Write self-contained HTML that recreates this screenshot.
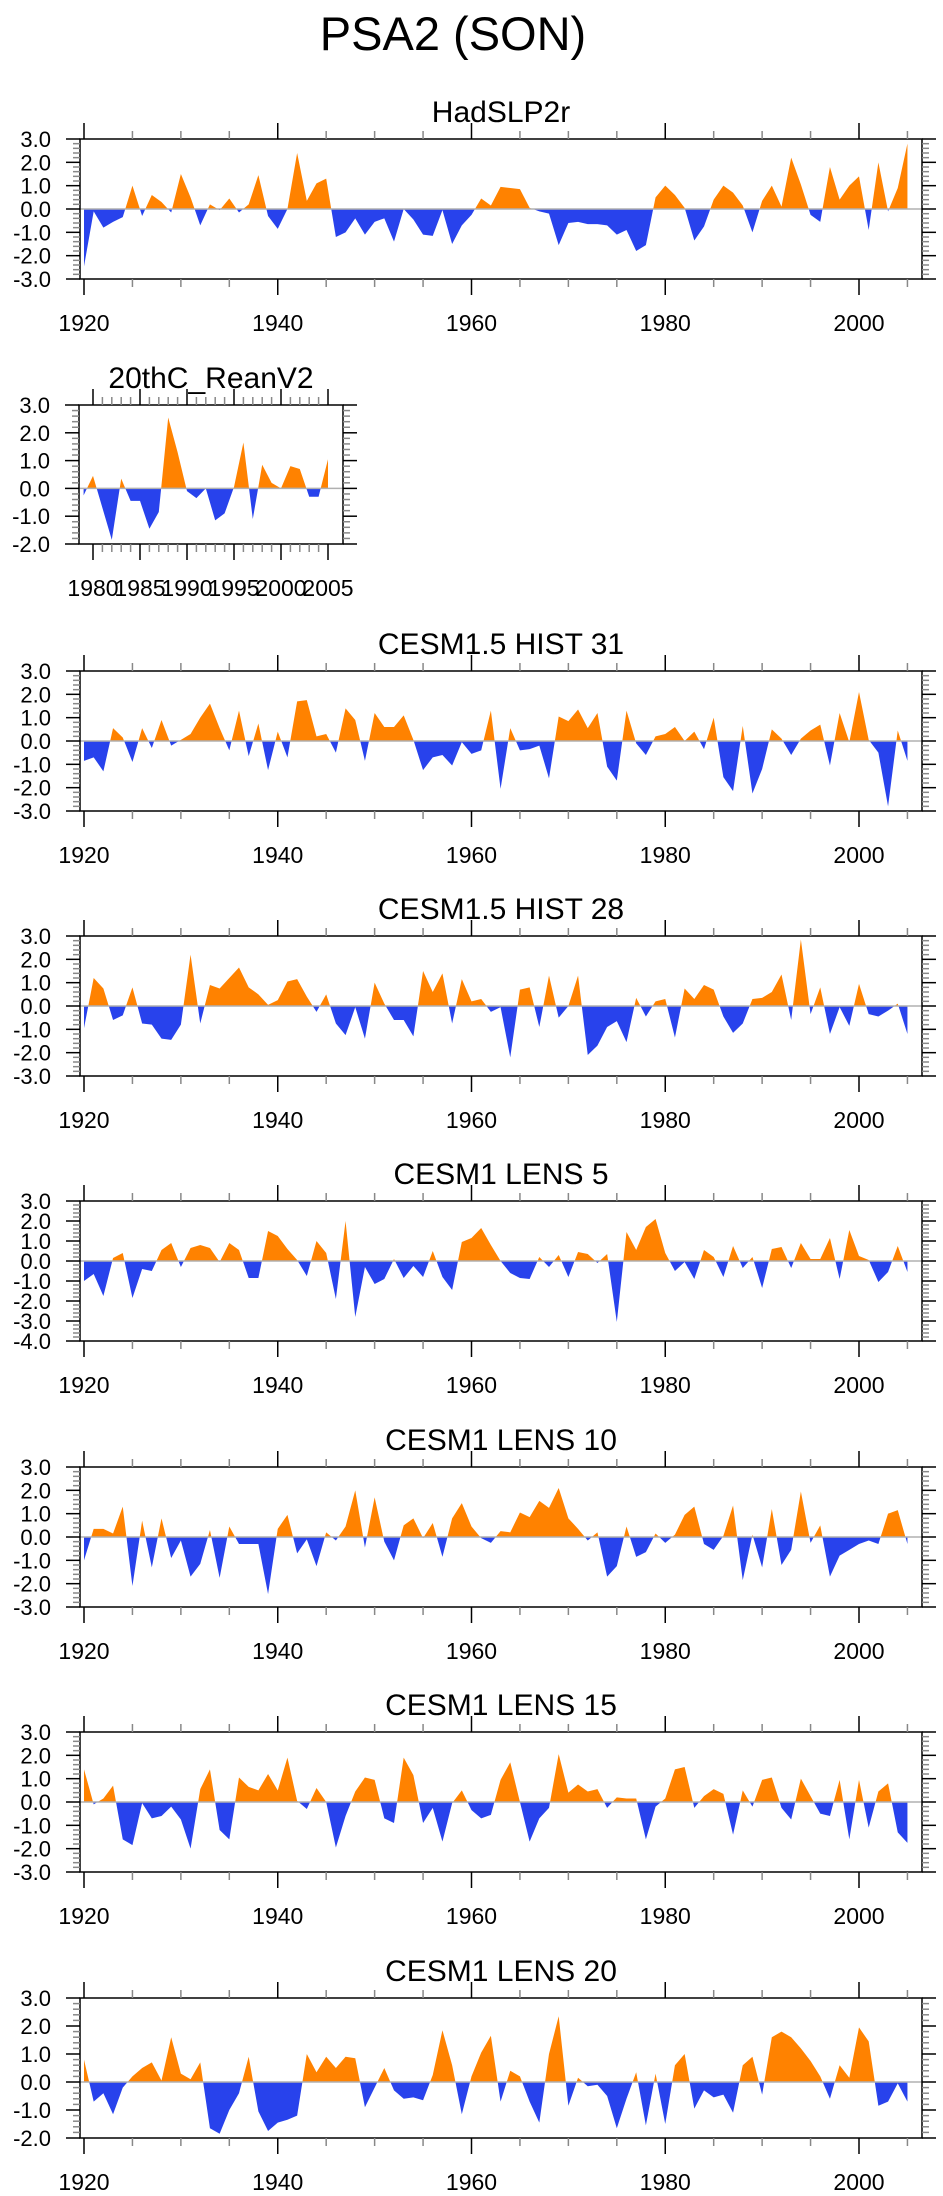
<!DOCTYPE html>
<html><head><meta charset="utf-8">
<style>
html,body{margin:0;padding:0;background:#fff;}
body{width:943px;height:2196px;overflow:hidden;}
svg{display:block;font-family:"Liberation Sans",sans-serif;}
</style></head>
<body>
<svg id="chart" width="943" height="2196" viewBox="0 0 943 2196" xmlns="http://www.w3.org/2000/svg">
<text x="453" y="50" font-size="47" text-anchor="middle">PSA2 (SON)</text>
</svg>
<script>
const startYear = 1920;
const hadslp2r = [-2.46,-0.1,-0.8,-0.55,-0.35,1.0,-0.3,0.6,0.3,-0.15,1.5,0.5,-0.7,0.2,-0.05,0.45,-0.15,0.2,1.45,-0.3,-0.85,0.0,2.4,0.35,1.1,1.3,-1.2,-1.0,-0.4,-1.1,-0.55,-0.4,-1.4,0.0,-0.45,-1.1,-1.15,-0.05,-1.5,-0.7,-0.25,0.45,0.15,0.95,0.9,0.85,0.05,-0.1,-0.2,-1.55,-0.6,-0.55,-0.65,-0.65,-0.7,-1.1,-0.9,-1.8,-1.55,0.5,1.0,0.6,0.05,-1.35,-0.75,0.4,1.0,0.7,0.15,-1.0,0.35,1.0,0.1,2.2,1.05,-0.25,-0.55,1.8,0.4,1.0,1.4,-0.9,2.0,-0.1,0.9,2.8];
const reanStart = 1979;
const reanV2 = [-0.25,0.45,-0.7,-1.85,0.35,-0.45,-0.45,-1.45,-0.85,2.55,1.3,-0.1,-0.35,0.0,-1.15,-0.9,0.05,1.65,-1.1,0.85,0.2,0.0,0.8,0.7,-0.3,-0.3,1.05];
const hist31 = [-0.85,-0.7,-1.3,0.55,0.15,-0.9,0.55,-0.3,0.9,-0.2,0.05,0.3,1.0,1.6,0.55,-0.4,1.3,-0.65,0.75,-1.25,0.4,-0.7,1.7,1.75,0.2,0.3,-0.5,1.4,0.9,-0.85,1.2,0.6,0.6,1.1,0.05,-1.25,-0.7,-0.6,-1.05,-0.05,-0.55,-0.4,1.3,-2.05,0.55,-0.4,-0.35,-0.2,-1.6,1.05,0.85,1.35,0.55,1.2,-1.1,-1.7,1.3,-0.1,-0.6,0.2,0.3,0.6,0.0,0.4,-0.35,1.0,-1.55,-2.15,0.65,-2.25,-1.2,0.5,0.1,-0.6,0.1,0.45,0.7,-1.05,1.2,-0.05,2.1,0.05,-0.5,-2.8,0.45,-0.85];
const hist28 = [-0.95,1.2,0.75,-0.6,-0.4,0.8,-0.75,-0.8,-1.4,-1.45,-0.8,2.2,-0.75,0.9,0.75,1.2,1.65,0.8,0.5,0.05,0.25,1.05,1.15,0.4,-0.25,0.5,-0.75,-1.25,-0.05,-1.4,1.0,0.1,-0.6,-0.6,-1.3,1.5,0.6,1.4,-0.75,1.15,0.2,0.3,-0.25,-0.05,-2.2,0.7,0.8,-0.9,1.3,-0.5,0.0,1.3,-2.1,-1.7,-0.9,-0.65,-1.55,0.35,-0.45,0.2,0.3,-1.35,0.75,0.3,0.9,0.7,-0.45,-1.15,-0.75,0.3,0.35,0.6,1.35,-0.6,2.85,-0.35,0.8,-1.2,-0.05,-0.85,0.95,-0.35,-0.45,-0.2,0.1,-1.2];
const lens5 = [-1.0,-0.65,-1.75,0.15,0.4,-1.85,-0.4,-0.5,0.55,0.9,-0.3,0.65,0.8,0.65,-0.05,0.9,0.55,-0.85,-0.85,1.5,1.25,0.6,0.05,-0.75,1.0,0.4,-1.9,2.0,-2.8,-0.3,-1.15,-0.9,0.1,-0.85,-0.25,-0.8,0.5,-0.8,-1.45,0.95,1.15,1.65,0.8,0.0,-0.6,-0.85,-0.9,0.2,-0.3,0.3,-0.8,0.45,0.35,-0.1,0.35,-3.05,1.45,0.55,1.7,2.1,0.4,-0.5,-0.05,-0.9,0.55,0.2,-0.8,0.75,-0.35,0.2,-1.35,0.6,0.7,-0.35,0.9,0.1,0.1,1.15,-0.9,1.55,0.25,0.05,-1.05,-0.55,0.75,-0.55];
const lens10 = [-1.0,0.35,0.35,0.15,1.3,-2.1,0.7,-1.3,0.8,-0.9,-0.15,-1.7,-1.15,0.3,-1.75,0.45,-0.3,-0.3,-0.3,-2.45,0.35,0.95,-0.7,-0.1,-1.25,0.2,-0.15,0.45,2.0,-0.45,1.7,-0.2,-1.0,0.5,0.8,-0.05,0.6,-0.85,0.8,1.45,0.45,-0.05,-0.25,0.25,0.2,1.05,0.85,1.55,1.25,2.1,0.8,0.35,-0.15,0.2,-1.7,-1.25,0.45,-0.85,-0.65,0.15,-0.25,0.1,0.95,1.3,-0.3,-0.55,0.05,1.35,-1.85,0.1,-1.3,1.2,-1.2,-0.55,1.95,-0.25,0.5,-1.7,-0.8,-0.55,-0.3,-0.15,-0.3,1.0,1.15,-0.3];
const lens15 = [1.4,-0.1,0.15,0.7,-1.6,-1.85,-0.05,-0.7,-0.6,-0.2,-0.75,-2.0,0.55,1.4,-1.2,-1.6,1.05,0.65,0.5,1.2,0.5,1.9,0.05,-0.3,0.6,0.0,-1.95,-0.6,0.45,1.05,0.95,-0.7,-0.9,1.9,1.15,-0.9,-0.25,-1.7,-0.05,0.5,-0.35,-0.7,-0.55,0.95,1.7,0.0,-1.7,-0.7,-0.25,2.05,0.4,0.75,0.45,0.55,-0.25,0.2,0.15,0.15,-1.6,-0.2,0.15,1.4,1.5,-0.25,0.25,0.55,0.35,-1.4,0.5,-0.2,0.95,1.05,-0.25,-0.75,1.0,0.25,-0.5,-0.6,0.95,-1.6,0.95,-1.1,0.45,0.8,-1.3,-1.75];
const lens20 = [0.8,-0.7,-0.4,-1.15,-0.2,0.2,0.5,0.7,0.05,1.6,0.3,0.1,0.7,-1.65,-1.85,-1.0,-0.4,0.9,-1.05,-1.75,-1.45,-1.35,-1.2,1.0,0.35,0.9,0.5,0.9,0.85,-0.9,-0.2,0.5,-0.3,-0.6,-0.55,-0.65,0.25,1.85,0.6,-1.15,0.2,1.05,1.65,-0.7,0.4,0.2,-0.7,-1.45,1.0,2.35,-0.85,0.15,-0.15,-0.1,-0.5,-1.65,-0.6,0.35,-1.55,0.3,-1.5,0.6,1.0,-0.95,-0.3,-0.55,-0.45,-1.1,0.6,0.9,-0.45,1.6,1.8,1.6,1.2,0.75,0.2,-0.6,0.6,0.15,1.95,1.45,-0.85,-0.7,-0.05,-0.7];
const fullTicks = [1920,1940,1960,1980,2000];
const reanTicks = [1980,1985,1990,1995,2000,2005];

const NS = "http://www.w3.org/2000/svg";
const svg = document.getElementById('chart');
const ORANGE = "#FF8200", BLUE = "#2842EC";
function mk(tag, attrs, parent){
  const e = document.createElementNS(NS, tag);
  for (const k in attrs) e.setAttribute(k, attrs[k]);
  (parent||svg).appendChild(e);
  return e;
}
let clipId = 0;
function panel(cfg){
  const g = mk('g', {});
  
  
  const L = cfg.left, R = cfg.right, T = cfg.top, B = cfg.top + cfg.h;
  const xs = v => cfg.x0 + (v - cfg.y0yr) * cfg.pxYear;
  const ys = v => T + (cfg.ymax - v) / (cfg.ymax - cfg.ymin) * (B - T);
  const tt = mk('text', {x:(L+R)/2, y:T-17, 'font-size':30, 'text-anchor':'middle'}, g);
  tt.textContent = cfg.title;
  
  
  const z = ys(0);
  let pts = xs(cfg.start).toFixed(2)+','+z.toFixed(2)+' ';
  cfg.data.forEach((v,i)=>{ pts += xs(cfg.start+i).toFixed(2)+','+ys(v).toFixed(2)+' '; });
  pts += xs(cfg.start+cfg.data.length-1).toFixed(2)+','+z.toFixed(2);
  const id1 = 'c'+(clipId++), id2 = 'c'+(clipId++);
  const defs = mk('defs', {}, g);
  const c1 = mk('clipPath', {id:id1}, defs); mk('rect', {x:L, y:T, width:R-L, height:z-T}, c1);
  const c2 = mk('clipPath', {id:id2}, defs); mk('rect', {x:L, y:z, width:R-L, height:B-z}, c2);
  const pa = mk('polygon', {points:pts, fill:ORANGE, 'clip-path':'url(#'+id1+')'}, g);
  
  
  const pb = mk('polygon', {points:pts, fill:BLUE, 'clip-path':'url(#'+id2+')'}, g);
  
  
  const zl = mk('line', {x1:L, x2:R, y1:z, y2:z, stroke:'#b0b0b0', 'stroke-width':1.5}, g);
  
  
  const fr = mk('rect', {x:L, y:T, width:R-L, height:B-T, fill:'none', stroke:'#000', 'stroke-width':1.5}, g);
  
  
  const steps = Math.round((cfg.ymax-cfg.ymin)/0.2);
  for (let k=0;k<=steps;k++){
    const v = cfg.ymin + k*0.2;
    const y = ys(v);
    const major = Math.abs(v - Math.round(v)) < 1e-6;
    const len = major ? 14 : 7;
    mk('line', {x1:L-len, x2:L, y1:y, y2:y, stroke: major?'#000':'#888', 'stroke-width':1.5}, g);
    mk('line', {x1:R, x2:R+len, y1:y, y2:y, stroke: major?'#000':'#888', 'stroke-width':1.5}, g);
    if (major){
      const lb = mk('text', {x:L-29, y:y+8, 'font-size':22, 'text-anchor':'end'}, g);
      lb.textContent = (Math.round(v)).toFixed(1);
      
      
    }
  }
  for (let yr=cfg.minorFrom; yr<=cfg.minorTo; yr+=cfg.minorStep){
    const x = xs(yr);
    const major = cfg.ticks.includes(yr);
    const len = major ? 16 : 8;
    mk('line', {x1:x, x2:x, y1:B, y2:B+len, stroke: major?'#000':'#888', 'stroke-width':1.5}, g);
    mk('line', {x1:x, x2:x, y1:T-len, y2:T, stroke: major?'#000':'#888', 'stroke-width':1.5}, g);
  }
  cfg.ticks.forEach(yr=>{
    const lb = mk('text', {x:xs(yr), y:B+52, 'font-size':23, 'text-anchor':'middle'}, g);
    lb.textContent = yr;
    
    
  });
}
const full = {left:80, right:922, x0:84, y0yr:1920, pxYear:9.6875, h:140, start:startYear, ticks:fullTicks, minorFrom:1920, minorTo:2005, minorStep:5};
panel(Object.assign({}, full, {name:'panel-hadslp2r', title:'HadSLP2r', top:139, ymin:-3, ymax:3, data:hadslp2r}));
panel({name:'panel-20thc-reanv2', title:'20thC_ReanV2', left:79, right:343, x0:93, y0yr:1980, pxYear:9.4, h:139, top:405, ymin:-2, ymax:3, data:reanV2, start:reanStart, ticks:reanTicks, minorFrom:1980, minorTo:2005, minorStep:1});
panel(Object.assign({}, full, {name:'panel-cesm15-hist31', title:'CESM1.5 HIST 31', top:671, ymin:-3, ymax:3, data:hist31}));
panel(Object.assign({}, full, {name:'panel-cesm15-hist28', title:'CESM1.5 HIST 28', top:936, ymin:-3, ymax:3, data:hist28}));
panel(Object.assign({}, full, {name:'panel-cesm1-lens5', title:'CESM1 LENS 5', top:1201, ymin:-4, ymax:3, data:lens5}));
panel(Object.assign({}, full, {name:'panel-cesm1-lens10', title:'CESM1 LENS 10', top:1467, ymin:-3, ymax:3, data:lens10}));
panel(Object.assign({}, full, {name:'panel-cesm1-lens15', title:'CESM1 LENS 15', top:1732, ymin:-3, ymax:3, data:lens15}));
panel(Object.assign({}, full, {name:'panel-cesm1-lens20', title:'CESM1 LENS 20', top:1998, ymin:-2, ymax:3, data:lens20}));
</script>
</body></html>
